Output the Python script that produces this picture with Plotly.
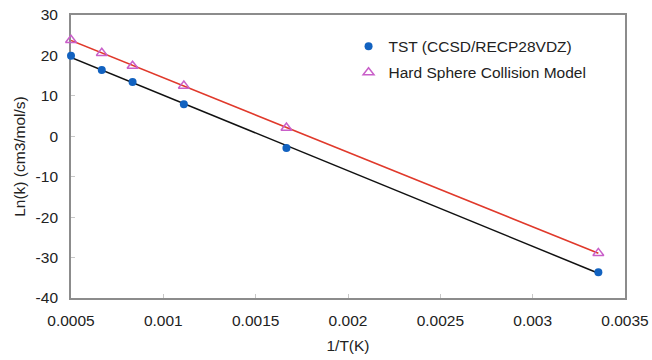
import numpy as np
import plotly.graph_objects as go

inv_T = [1/2000, 1/1500, 1/1200, 1/900, 1/600, 1/298]
tst_lnk = [19.9, 16.4, 13.4, 7.9, -2.9, -33.6]
hs_lnk = [23.8, 20.6, 17.4, 12.5, 2.1, -28.9]
x_ticks = [0.0005, 0.001, 0.0015, 0.002, 0.0025, 0.003, 0.0035]
x_tick_labels = ["0.0005", "0.001", "0.0015", "0.002", "0.0025", "0.003", "0.0035"]
y_ticks = [30, 20, 10, 0, -10, -20, -30, -40]
y_tick_labels = ["30", "20", "10", "0", "-10", "-20", "-30", "-40"]

xr = [min(inv_T), max(inv_T)]
p1 = np.polyfit(inv_T, tst_lnk, 1)
p2 = np.polyfit(inv_T, hs_lnk, 1)

FONT = "Liberation Sans, Arial, Helvetica"
FS = 15.5

fig = go.Figure()
fig.add_trace(go.Scatter(x=xr, y=np.polyval(p2, xr), mode="lines",
                         line=dict(color="#e0392b", width=1.5), showlegend=False, hoverinfo="skip"))
fig.add_trace(go.Scatter(x=xr, y=np.polyval(p1, xr), mode="lines",
                         line=dict(color="#111111", width=1.5), showlegend=False, hoverinfo="skip"))
fig.add_trace(go.Scatter(x=inv_T, y=tst_lnk, mode="markers", name="TST (CCSD/RECP28VDZ)",
                         legendgroup="a", cliponaxis=False,
                         marker=dict(symbol="circle", size=8, color="#1262c0")))
fig.add_trace(go.Scatter(x=inv_T, y=hs_lnk, mode="markers", name="Hard Sphere Collision Model",
                         legendgroup="b", cliponaxis=False,
                         marker=dict(symbol="triangle-up-open", size=9.5, color="#c95fc9",
                                     line=dict(width=1.5))))

axis_common = dict(showline=True, linecolor="#8c8c8c", linewidth=1.8, mirror=True,
                   showgrid=False, zeroline=False, ticks="inside", ticklen=4,
                   tickcolor="#c8c8c8", tickwidth=1, automargin=False, layer="below traces",
                   tickfont=dict(family=FONT, size=FS, color="#222"))

fig.update_layout(
    width=652, height=360,
    margin=dict(l=71, r=27, t=15, b=62),
    plot_bgcolor="white", paper_bgcolor="white",
    font=dict(family=FONT, size=FS, color="#222"),
    xaxis=dict(range=[0.0005, 0.0035], tickvals=x_ticks, ticktext=x_tick_labels,
               title=dict(text="1/T(K)", font=dict(size=FS), standoff=13),
               ticklabelstandoff=7, **axis_common),
    yaxis=dict(range=[-40, 30], tickvals=y_ticks, ticktext=y_tick_labels,
               title=dict(text="Ln(k) (cm3/mol/s)", font=dict(size=FS), standoff=6),
               ticklabelstandoff=8, **axis_common),
    legend=dict(x=0.501, y=0.948, xanchor="left", yanchor="top",
                bgcolor="rgba(0,0,0,0)", font=dict(size=FS), itemwidth=30,
                traceorder="grouped", tracegroupgap=3),
)

fig.write_html("out.html")
